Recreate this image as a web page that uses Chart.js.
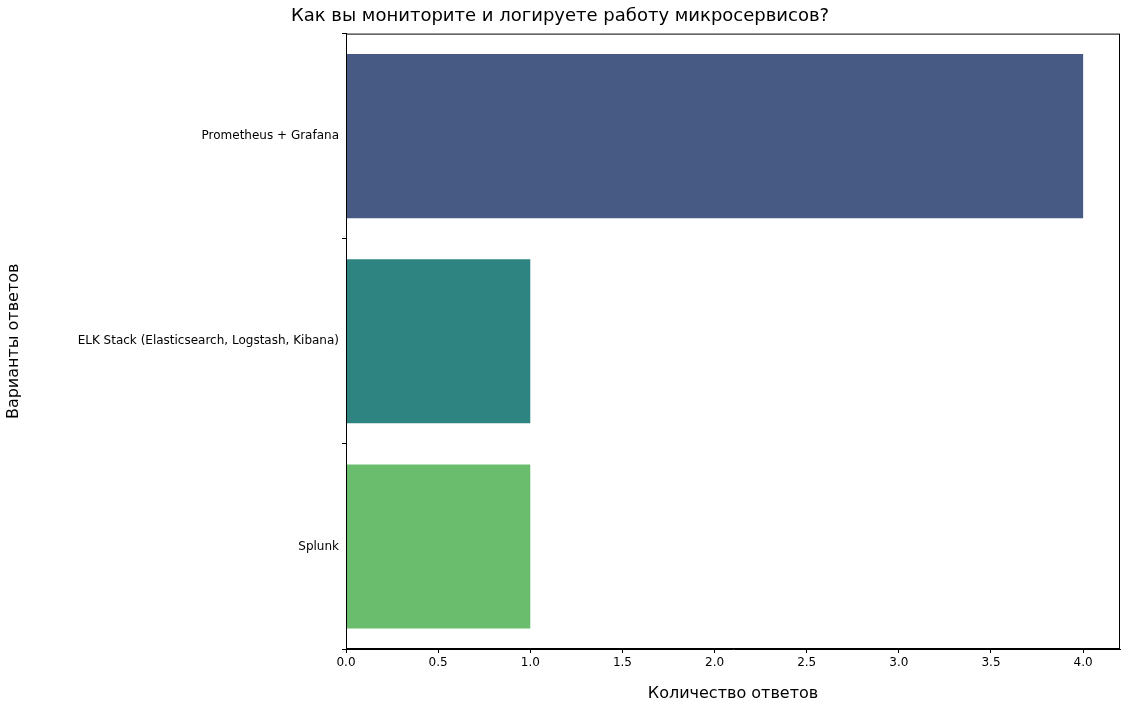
<!DOCTYPE html>
<html lang="ru">
<head>
<meta charset="UTF-8">
<title>Мониторинг микросервисов</title>
<script src="https://cdn.jsdelivr.net/npm/chart.js@4.4.4/dist/chart.umd.min.js"></script>
<style>
  html, body { margin: 0; padding: 0; background: #fff; }
  #wrap { width: 1130px; height: 707px; }
</style>
</head>
<body>
<div id="wrap"><canvas id="chart"></canvas></div>
<script>
const categories = ['Prometheus + Grafana', 'ELK Stack (Elasticsearch, Logstash, Kibana)', 'Splunk'];
const counts = [4, 1, 1];
const barColors = ['#465a84', '#2e8480', '#6bbd6e'];
const xTicks = [0, 0.5, 1, 1.5, 2, 2.5, 3, 3.5, 4];

// full box around plot area, like matplotlib spines
const boxPlugin = {
  id: 'box',
  afterDraw(chart) {
    const a = chart.chartArea, ctx = chart.ctx;
    ctx.save();
    ctx.strokeStyle = '#000';
    ctx.lineWidth = 1;
    ctx.strokeRect(a.left + 0.5, a.top + 0.5, a.right - a.left - 1, a.bottom - a.top - 1);
    ctx.restore();
  }
};

new Chart(document.getElementById('chart'), {
  type: 'bar',
  data: {
    labels: categories,
    datasets: [{
      data: counts,
      backgroundColor: barColors,
      borderWidth: 0,
      categoryPercentage: 0.8,
      barPercentage: 1
    }]
  },
  options: {
    indexAxis: 'y',
    responsive: true,
    maintainAspectRatio: false,
    animation: false,
    layout: { padding: { left: 0, right: 10, top: 0, bottom: 0 } },
    plugins: {
      legend: { display: false },
      tooltip: { enabled: false },
      title: {
        display: true,
        text: 'Как вы мониторите и логируете работу микросервисов?',
        color: '#000',
        font: { family: 'DejaVu Sans', size: 18, weight: 'normal' },
        padding: { top: 6, bottom: 6 }
      }
    },
    scales: {
      x: {
        min: 0, max: 4.2,
        afterBuildTicks: s => { s.ticks = xTicks.map(v => ({ value: v })); },
        afterFit: s => { s.height = 58; },
        ticks: { color: '#000', font: { family: 'DejaVu Sans', size: 12 }, callback: v => v.toFixed(1), maxRotation: 0 },
        grid: { drawOnChartArea: false, drawTicks: true, tickLength: 4, color: '#000' },
        border: { display: true, color: '#000' },
        title: { display: true, text: 'Количество ответов', color: '#000', font: { family: 'DejaVu Sans', size: 16 }, padding: { top: 2 } }
      },
      y: {
        afterFit: s => { s.width = 346; },
        ticks: { color: '#000', font: { family: 'DejaVu Sans', size: 12 } },
        grid: { drawOnChartArea: false, drawTicks: true, tickLength: 4, color: '#000' },
        border: { display: true, color: '#000' },
        title: { display: true, text: 'Варианты ответов', color: '#000', font: { family: 'DejaVu Sans', size: 16 } }
      }
    }
  },
  plugins: [boxPlugin]
});
</script>
</body>
</html>
